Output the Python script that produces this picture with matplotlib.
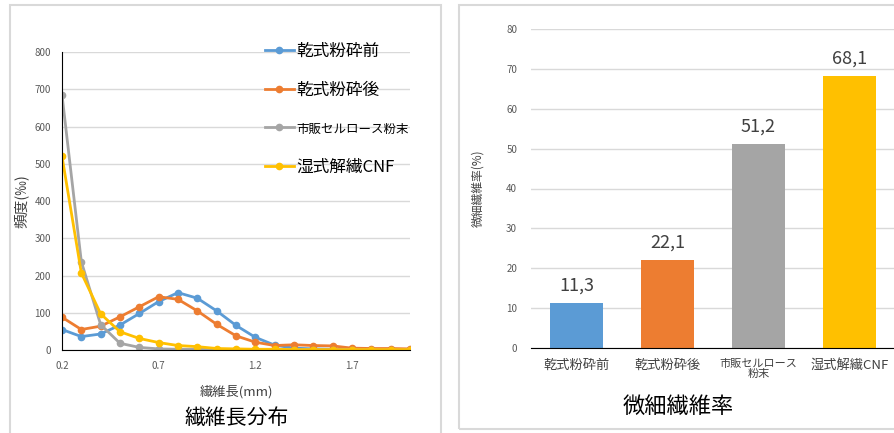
import numpy as np
import matplotlib
matplotlib.use("Agg")
import matplotlib.pyplot as plt
from matplotlib.patches import Rectangle

plt.rcParams['font.family'] = ['Noto Sans CJK JP', 'DejaVu Sans']

# ---- data: fibre length distribution (left) ----
fiber_length = [0.2, 0.3, 0.4, 0.5, 0.6, 0.7, 0.8, 0.9, 1.0, 1.1,
                1.2, 1.3, 1.4, 1.5, 1.6, 1.7, 1.8, 1.9, 2.0]
dry_before = [55, 36, 43, 67, 98, 130, 154, 139, 105, 66,
              34, 13, 5, 3, 2, 1, 1, 1, 1]
dry_after = [88, 55, 64, 89, 116, 143, 136, 105, 69, 38,
             21, 12, 14, 12, 11, 5, 4, 4, 3]
commercial = [685, 237, 68, 18, 7, 3, 2, 2, 1, 1,
              1, 1, 1, 1, 1, 1, 0, 0, 0]
wet_cnf = [520, 207, 97, 49, 31, 20, 12, 9, 4, 3,
           2, 2, 1, 1, 1, 1, 1, 1, 1]
series_labels = ["乾式粉砕前", "乾式粉砕後", "市販セルロース粉末", "湿式解繊CNF"]

# ---- data: fine fibre ratio (right) ----
bar_labels = ["乾式粉砕前", "乾式粉砕後", "市販セルロース\n粉末", "湿式解繊CNF"]
fine_ratio = [11.3, 22.1, 51.2, 68.1]

colors = ["#5B9BD5", "#ED7D31", "#A5A5A5", "#FFC000"]
grid_col = "#d9d9d9"
tick_col = "#595959"

fig = plt.figure(figsize=(8.95, 4.33), dpi=100)

# panel frames
fig.patches.append(Rectangle((10 / 895, -0.01), 431 / 895, 1 - 5 / 433 + 0.01,
                             transform=fig.transFigure, fill=False,
                             edgecolor="#d9d9d9", lw=1.5))
fig.patches.append(Rectangle((459 / 895, 1 - 429 / 433), 0.6, (429 - 5) / 433,
                             transform=fig.transFigure, fill=False,
                             edgecolor="#d9d9d9", lw=1.5))

# ---------- left: line chart ----------
ax1 = fig.add_axes([62 / 895, 1 - 350 / 433, 348 / 895, 298 / 433])
for vals, lab, c in zip([dry_before, dry_after, commercial, wet_cnf], series_labels, colors):
    ax1.plot(fiber_length, vals, color=c, lw=2, marker="o", ms=4.5, label=lab)
ax1.set_xlim(0.2, 2.0)
ax1.set_ylim(0, 800)
ax1.set_yticks(np.arange(0, 801, 100))
ax1.set_xticks([0.2, 0.7, 1.2, 1.7])
ax1.set_xticklabels(["0.2", "0.7", "1.2", "1.7"])
ax1.grid(axis="y", color=grid_col, lw=1)
ax1.set_axisbelow(True)
for s in ["top", "right"]:
    ax1.spines[s].set_visible(False)
ax1.spines["left"].set_color("black")
ax1.spines["bottom"].set_color("black")
ax1.tick_params(axis="both", length=0, labelsize=7, labelcolor=tick_col)
ax1.tick_params(axis="y", pad=8)
ax1.tick_params(axis="x", pad=8)
ax1.set_ylabel("頻度(‰)", fontsize=10.5, color="#404040", labelpad=4)
ax1.set_xlabel("繊維長(mm)", fontsize=9.5, color="#404040", labelpad=10)
leg = ax1.legend(loc="upper left", bbox_to_anchor=(0.56, 1.06), frameon=False,
                 fontsize=12, handlelength=1.7, handletextpad=0.15,
                 labelspacing=1.35, borderpad=0)
leg.get_texts()[2].set_fontsize(9)
fig.text(237 / 895, 1 - 418 / 433, "繊維長分布", fontsize=15, ha="center", va="center")

# ---------- right: bar chart ----------
ax2 = fig.add_axes([531 / 895, 1 - 348 / 433, 364 / 895, 319 / 433])
x = np.arange(len(fine_ratio))
bars = ax2.bar(x, fine_ratio, width=0.58, color=colors)
for b, v in zip(bars, fine_ratio):
    ax2.annotate(f"{v:.1f}".replace(".", ","), (b.get_x() + b.get_width() / 2, v),
                 xytext=(0, 6), textcoords="offset points", ha="center", va="bottom",
                 fontsize=13, color="#404040")
ax2.set_xlim(-0.5, 3.5)
ax2.set_ylim(0, 80)
ax2.set_yticks(np.arange(0, 81, 10))
ax2.set_xticks(x)
ax2.set_xticklabels(bar_labels, fontsize=9.5, color="#404040", linespacing=1.0)
ax2.get_xticklabels()[2].set_fontsize(8)
ax2.grid(axis="y", color=grid_col, lw=1)
ax2.set_axisbelow(True)
for s in ["top", "right", "left"]:
    ax2.spines[s].set_visible(False)
ax2.spines["bottom"].set_color("black")
ax2.tick_params(axis="both", length=0)
ax2.tick_params(axis="y", labelsize=7, labelcolor=tick_col, pad=10)
ax2.tick_params(axis="x", pad=8)
ax2.set_ylabel("微細繊維率(%)", fontsize=8.5, color="#404040", labelpad=16)
fig.text(678 / 895, 1 - 406 / 433, "微細繊維率", fontsize=16, ha="center", va="center")

fig.savefig("out.png", dpi=100)
